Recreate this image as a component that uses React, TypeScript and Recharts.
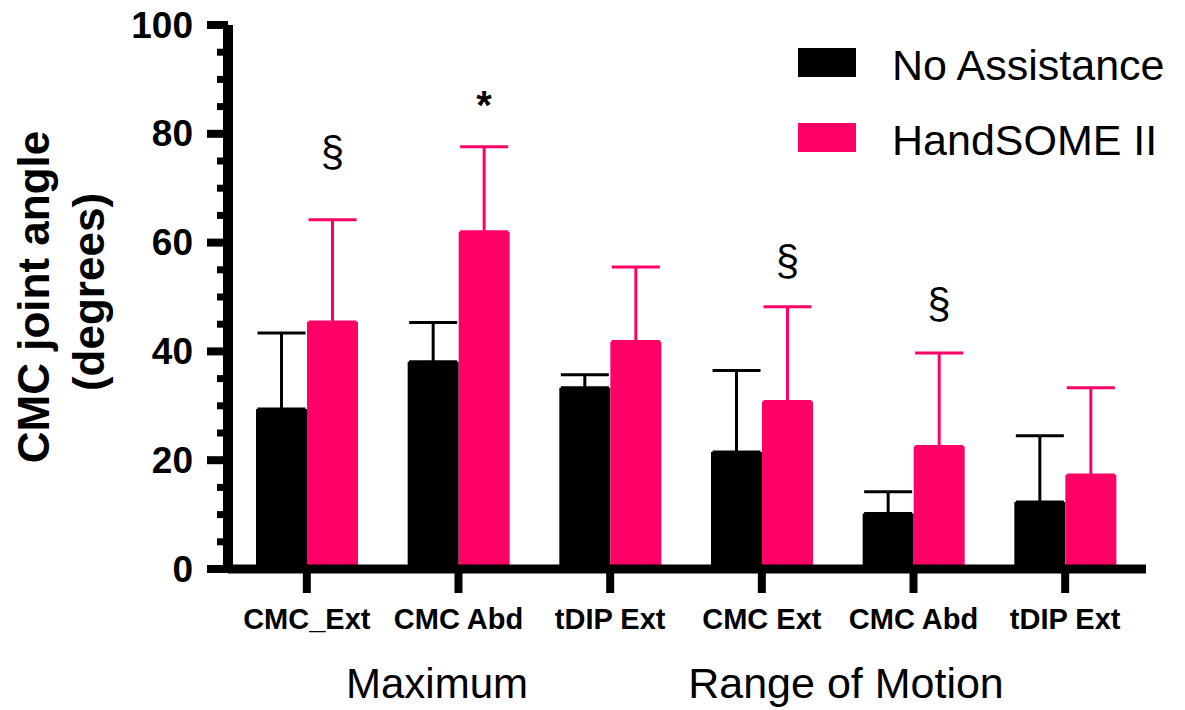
import React from 'react';
import {
  BarChart,
  Bar,
  XAxis,
  YAxis,
  ErrorBar,
  Legend,
  ReferenceDot,
  Customized,
} from 'recharts';

const FONT = 'Arial, "Liberation Sans", sans-serif';
const PINK = '#ff0066';

// tick labels under the bars
const categories = ['CMC_Ext', 'CMC Abd', 'tDIP Ext', 'CMC Ext', 'CMC Abd', 'tDIP Ext'];

// means and upward SD
const noAssistance = [29.4, 38.1, 33.3, 21.5, 10.2, 12.3];
const noAssistanceSD = [14.0, 7.2, 2.4, 15.0, 4.0, 12.2];
const handsome = [45.4, 62.0, 41.8, 30.8, 22.5, 17.3];
const handsomeSD = [18.8, 15.6, 13.7, 17.4, 17.2, 16.0];

const seriesNames = ['No Assistance', 'HandSOME II'];

// significance marks over the HandSOME bars and the level they sit at
const marks = ['§', '*', '', '§', '§', ''];
const markLevels = [74, 82.7, 0, 54.1, 46.2, 0];

const yTicks = [0, 5, 10, 15, 20, 25, 30, 35, 40, 45, 50, 55, 60, 65, 70, 75, 80, 85, 90, 95, 100];
const groupLabels = ['Maximum', 'Range of Motion'];

const data = categories.map((name, i) => ({
  key: `g${i}`,
  name,
  noAssistance: noAssistance[i],
  noAssistanceErr: [0, noAssistanceSD[i]],
  handsome: handsome[i],
  handsomeErr: [0, handsomeSD[i]],
}));

const BAR = 51;
const Y_TICK_SIZE = 22;
const Y_TICK_MARGIN = 6;

function renderYTick(props: any) {
  const { x, y, payload } = props;
  const axisX = x + Y_TICK_SIZE + Y_TICK_MARGIN;
  const major = payload.value % 20 === 0;
  const len = major ? 21 : 11;
  return (
    <g>
      <line x1={axisX - len} x2={axisX} y1={y} y2={y} stroke="#000" strokeWidth={major ? 8 : 7} />
      {major && (
        <text
          x={axisX - 35}
          y={y}
          textAnchor="end"
          dominantBaseline="central"
          fontFamily={FONT}
          fontWeight="bold"
          fontSize={37}
          fill="#000"
        >
          {payload.value}
        </text>
      )}
    </g>
  );
}

function renderXTick(props: any) {
  const { x, y, index } = props;
  return (
    <text x={x} y={y + 36} textAnchor="middle" fontFamily={FONT} fontWeight="bold" fontSize={29} fill="#000">
      {categories[index]}
    </text>
  );
}

function LegendContent(props: any) {
  const items = [...(props.payload || [])].sort(
    (a: any, b: any) => seriesNames.indexOf(a.value) - seriesNames.indexOf(b.value)
  );
  return (
    <div style={{ fontFamily: FONT }}>
      {items.map((item: any, i: number) => (
        <div key={i} style={{ display: 'flex', alignItems: 'center', height: 29, marginTop: i === 0 ? 8 : 46 }}>
          <div style={{ width: 58, height: 29, background: item.color }} />
          <span style={{ marginLeft: 36, fontSize: 43, lineHeight: '29px', paddingTop: 5, color: '#000' }}>
            {item.value}
          </span>
        </div>
      ))}
    </div>
  );
}

function Decorations() {
  return (
    <g fontFamily={FONT} fill="#000">
      <text transform="rotate(-90)" x={-297} y={49} textAnchor="middle" fontWeight="bold" fontSize={44}>
        CMC joint angle
      </text>
      <text transform="rotate(-90)" x={-292} y={104} textAnchor="middle" fontWeight="bold" fontSize={44}>
        (degrees)
      </text>
      <text x={437} y={698} textAnchor="middle" fontSize={42}>
        {groupLabels[0]}
      </text>
      <text x={846} y={698} textAnchor="middle" fontSize={43}>
        {groupLabels[1]}
      </text>
    </g>
  );
}

export default function App() {
  return (
    <div style={{ position: 'absolute', left: 0, top: 0, background: '#fff' }}>
      <BarChart
        width={1185}
        height={710}
        data={data}
        margin={{ top: 25, right: 39, bottom: 81, left: 0 }}
        barGap={0}
        barSize={BAR}
      >
        <XAxis
          dataKey="key"
          height={60}
          interval={0}
          padding={{ left: 3, right: 5 }}
          axisLine={{ stroke: '#000', strokeWidth: 9 }}
          tickLine={{ stroke: '#000', strokeWidth: 8 }}
          tickSize={24}
          tickMargin={0}
          tick={renderXTick}
        />
        <YAxis
          width={228}
          domain={[0, 100]}
          ticks={yTicks}
          interval={0}
          axisLine={{ stroke: '#000', strokeWidth: 10 }}
          tickLine={false}
          tickSize={Y_TICK_SIZE}
          tickMargin={Y_TICK_MARGIN}
          tick={renderYTick}
        />
        <Legend
          layout="vertical"
          align="center"
          verticalAlign="middle"
          wrapperStyle={{ left: 798, top: 40, width: 380 }}
          content={<LegendContent />}
        />
        <Bar dataKey="noAssistance" name={seriesNames[0]} fill="#000" isAnimationActive={false}>
          <ErrorBar dataKey="noAssistanceErr" direction="y" width={24} stroke="#000" strokeWidth={3} />
        </Bar>
        <Bar dataKey="handsome" name={seriesNames[1]} fill={PINK} isAnimationActive={false}>
          <ErrorBar dataKey="handsomeErr" direction="y" width={24} stroke={PINK} strokeWidth={3} />
        </Bar>
        {marks.map((m, i) =>
          m ? (
            <ReferenceDot
              key={i}
              x={data[i].key}
              y={markLevels[i]}
              r={1}
              shape={(p: any) => (
                <text
                  x={p.cx + BAR / 2}
                  y={p.cy}
                  textAnchor="middle"
                  fontFamily={FONT}
                  fontWeight={m === '*' ? 'bold' : 'normal'}
                  fontSize={m === '*' ? 40 : 42}
                  fill="#000"
                >
                  {m}
                </text>
              )}
            />
          ) : null
        )}
        <Customized component={Decorations} />
      </BarChart>
    </div>
  );
}
